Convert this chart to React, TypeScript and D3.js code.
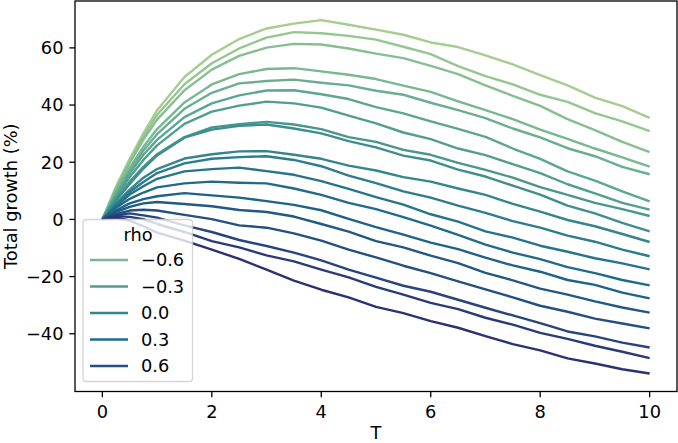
import React from "react"
import { scaleLinear, line } from "d3"

// time grid (T)
const tValues = [0, 0.25, 0.5, 0.75, 1, 1.5, 2, 2.5, 3, 3.5, 4, 4.5, 5, 5.5, 6, 6.5, 7, 7.5, 8, 8.5, 9, 9.5, 10]

// total growth (%) per rho
const rhoM09 = [0, 11.5, 21.2, 30.1, 38.2, 49.8, 57.6, 63.1, 66.8, 68.5, 69.7, 68.1, 66.4, 64.6, 61.9, 60.3, 57.4, 54.2, 50.5, 46.9, 42.6, 39.6, 35.5]
const rhoM08 = [0, 11.1, 20.4, 29.0, 36.6, 47.3, 54.6, 59.8, 63.6, 65.5, 65.1, 64.2, 62.9, 60.4, 57.8, 53.6, 50.1, 47.2, 43.6, 41.1, 37.2, 34.3, 30.9]
const rhoM07 = [0, 10.6, 19.8, 27.9, 34.9, 45.2, 52.4, 57.2, 60.1, 61.4, 61.2, 59.8, 58.0, 56.4, 53.7, 50.8, 46.9, 43.2, 39.7, 35.1, 31.2, 27.1, 23.5]
const rhoM06 = [0, 9.6, 18.1, 25.4, 31.6, 40.9, 47.2, 50.8, 52.6, 52.9, 51.8, 50.6, 49.1, 46.8, 44.6, 41.3, 38.2, 35.1, 31.4, 28.2, 24.8, 21.7, 18.5]
const rhoM05 = [0, 9.1, 17.0, 24.1, 29.8, 38.7, 44.3, 47.6, 48.4, 48.9, 47.8, 46.9, 45.0, 43.6, 40.8, 38.2, 35.4, 31.8, 28.7, 24.9, 22.1, 18.4, 15.8]
const rhoM04 = [0, 8.4, 16.1, 22.6, 27.8, 35.8, 40.6, 43.4, 45.1, 45.2, 43.8, 42.1, 39.3, 37.1, 34.3, 31.7, 28.9, 24.8, 21.2, 16.8, 13.6, 9.8, 6.3]
const rhoM03 = [0, 7.9, 14.8, 20.8, 25.9, 33.4, 37.7, 39.8, 41.2, 40.6, 39.1, 36.3, 33.6, 30.4, 28.1, 24.8, 22.5, 19.3, 16.2, 12.3, 9.1, 5.8, 3.4]
const rhoM02 = [0, 7.1, 13.2, 18.4, 22.8, 28.8, 32.2, 33.3, 34.1, 33.2, 31.6, 28.8, 27.1, 24.3, 22.6, 19.8, 17.3, 14.6, 11.3, 8.6, 5.8, 3.6, 1.2]
const rhoM01 = [0, 6.6, 12.4, 17.8, 22.4, 28.6, 31.4, 32.7, 33.2, 31.8, 30.1, 27.4, 25.2, 22.3, 20.6, 17.4, 15.0, 11.8, 8.7, 4.8, 2.1, -1.2, -4.2]
const rho00 = [0, 5.6, 10.4, 14.6, 17.6, 21.3, 22.8, 23.8, 23.9, 22.6, 21.2, 18.8, 17.1, 14.8, 13.2, 10.8, 8.6, 5.4, 2.7, -0.2, -2.4, -5.1, -7.9]
const rhoP01 = [0, 5.1, 9.6, 13.1, 16.2, 19.6, 21.2, 21.8, 22.1, 20.8, 18.6, 15.3, 12.7, 9.8, 7.6, 4.8, 2.3, -0.6, -2.9, -5.7, -7.8, -10.6, -12.9]
const rhoP02 = [0, 4.6, 8.7, 11.6, 14.2, 16.8, 17.6, 18.1, 16.9, 15.6, 13.4, 10.7, 7.8, 5.2, 1.8, -0.8, -4.2, -6.4, -9.2, -11.3, -13.6, -15.4, -17.5]
const rhoP03 = [0, 4.1, 7.2, 9.4, 11.2, 12.6, 13.2, 12.8, 12.6, 10.8, 8.6, 5.8, 3.6, 0.8, -2.2, -5.4, -8.8, -11.6, -13.9, -16.7, -18.8, -21.2, -23.1]
const rhoP04 = [0, 3.2, 5.6, 7.1, 8.1, 9.2, 8.4, 7.6, 6.4, 5.1, 3.2, 0.2, -2.7, -5.3, -8.1, -10.4, -13.4, -16.1, -18.3, -21.2, -22.9, -25.6, -27.6]
const rhoP05 = [0, 2.6, 4.4, 5.6, 6.1, 5.4, 4.6, 3.3, 2.6, 1.0, -1.6, -4.3, -7.6, -9.8, -12.7, -15.3, -18.7, -21.3, -24.2, -26.3, -28.7, -30.8, -32.6]
const rhoP06 = [0, 1.9, 3.1, 3.4, 3.1, 1.6, 0.1, -2.1, -2.9, -4.9, -7.4, -10.6, -13.3, -16.2, -18.8, -21.7, -24.5, -27.3, -30.2, -32.3, -34.7, -36.4, -38.1]
const rhoP07 = [0, 1.4, 2.1, 1.4, 0.6, -2.1, -4.4, -7.2, -9.3, -11.6, -14.3, -17.6, -20.4, -23.2, -25.3, -28.1, -30.9, -33.6, -36.3, -39.2, -40.9, -43.1, -44.8]
const rhoP08 = [0, 1.1, 0.9, 0.1, -1.6, -4.4, -7.6, -9.8, -12.6, -14.7, -17.6, -20.3, -23.6, -26.3, -29.2, -31.4, -34.4, -36.8, -39.7, -41.8, -44.2, -46.3, -48.5]
const rhoP09 = [0, 0.6, -0.4, -2.4, -4.6, -7.4, -10.6, -13.8, -17.6, -21.4, -24.6, -27.3, -30.6, -32.8, -35.6, -37.9, -40.8, -43.6, -45.8, -48.6, -50.4, -52.4, -53.9]

const rhos = [-0.9, -0.8, -0.7, -0.6, -0.5, -0.4, -0.3, -0.2, -0.1, 0, 0.1, 0.2, 0.3, 0.4, 0.5, 0.6, 0.7, 0.8, 0.9]
const growth = [rhoM09, rhoM08, rhoM07, rhoM06, rhoM05, rhoM04, rhoM03, rhoM02, rhoM01, rho00,
  rhoP01, rhoP02, rhoP03, rhoP04, rhoP05, rhoP06, rhoP07, rhoP08, rhoP09]

const xTicks = [0, 2, 4, 6, 8, 10]
const yTicks = [-40, -20, 0, 20, 40, 60]
const legendRhos = [-0.6, -0.3, 0, 0.3, 0.6]

// seaborn "crest"
const crestStops = [0, 1 / 7, 2 / 7, 3 / 7, 4 / 7, 5 / 7, 6 / 7, 1]
const crestColors = ["#a5cd90", "#7dba91", "#59a590", "#40908e", "#287a8c", "#1c6488", "#254b7f", "#2c3172"]

const fmt = (v: number) => (v < 0 ? "\u2212" : "") + Math.abs(v).toFixed(1)
const fmtTick = (v: number) => (v < 0 ? "\u2212" : "") + Math.abs(v)

const App = () => {
  const width = 678
  const height = 443
  const left = 75
  const right = 677
  const top = 1
  const bottom = 391.5
  const fs = 17.8

  const x = scaleLinear().domain([-0.5, 10.5]).range([left, right])
  const y = scaleLinear().domain([-60.2, 76.4]).range([bottom, top])
  const crest = scaleLinear<string>().domain(crestStops).range(crestColors)
  const hue = scaleLinear().domain([-0.9, 0.9]).range([0, 1])
  const color = (r: number) => crest(hue(r))

  const path = line<number>()
    .x((d, i) => x(tValues[i]))
    .y((d) => y(d))

  const legendY = scaleLinear().domain([0, 4]).range([260, 366])

  return (
    <svg
      width={width}
      height={height}
      style={{ position: "absolute", left: 0, top: 0, fontFamily: "DejaVu Sans" }}
    >
      <rect width={width} height={height} fill="white" />
      {growth.map((vals, i) => (
        <path
          key={i}
          d={path(vals) || ""}
          fill="none"
          stroke={color(rhos[i])}
          strokeWidth={2.4}
          strokeLinejoin="round"
        />
      ))}

      {/* legend */}
      <rect x={83} y={219.5} width={109.5} height={162} rx={3} fill="white" fillOpacity={0.8}
        stroke="#cccccc" strokeOpacity={0.8} strokeWidth={1.3} />
      <text x={138} y={241} fontSize={fs} textAnchor="middle">rho</text>
      {legendRhos.map((r, i) => (
        <g key={r} transform={`translate(0, ${legendY(i)})`}>
          <line x1={90} x2={128} stroke={color(r)} strokeWidth={2.4} />
          <text x={141} y={fs * 0.36} fontSize={fs}>{fmt(r)}</text>
        </g>
      ))}

      {/* frame */}
      <rect x={left} y={top} width={right - left} height={bottom - top} fill="none" stroke="black" strokeWidth={1.3} />

      {xTicks.map((t) => (
        <g key={t} transform={`translate(${x(t)}, ${bottom})`}>
          <line y2={5.7} stroke="black" strokeWidth={1.3} />
          <text y={26.5} fontSize={fs} textAnchor="middle">{t}</text>
        </g>
      ))}
      {yTicks.map((t) => (
        <g key={t} transform={`translate(${left}, ${y(t)})`}>
          <line x2={-5.7} stroke="black" strokeWidth={1.3} />
          <text x={-11.5} y={fs * 0.36} fontSize={fs} textAnchor="end">{fmtTick(t)}</text>
        </g>
      ))}
      <text x={(left + right) / 2} y={439} fontSize={fs} textAnchor="middle">T</text>
      <text transform={`translate(16.5, ${(top + bottom) / 2}) rotate(-90)`} fontSize={fs} textAnchor="middle">
        Total growth (%)
      </text>
    </svg>
  )
}

export default App
